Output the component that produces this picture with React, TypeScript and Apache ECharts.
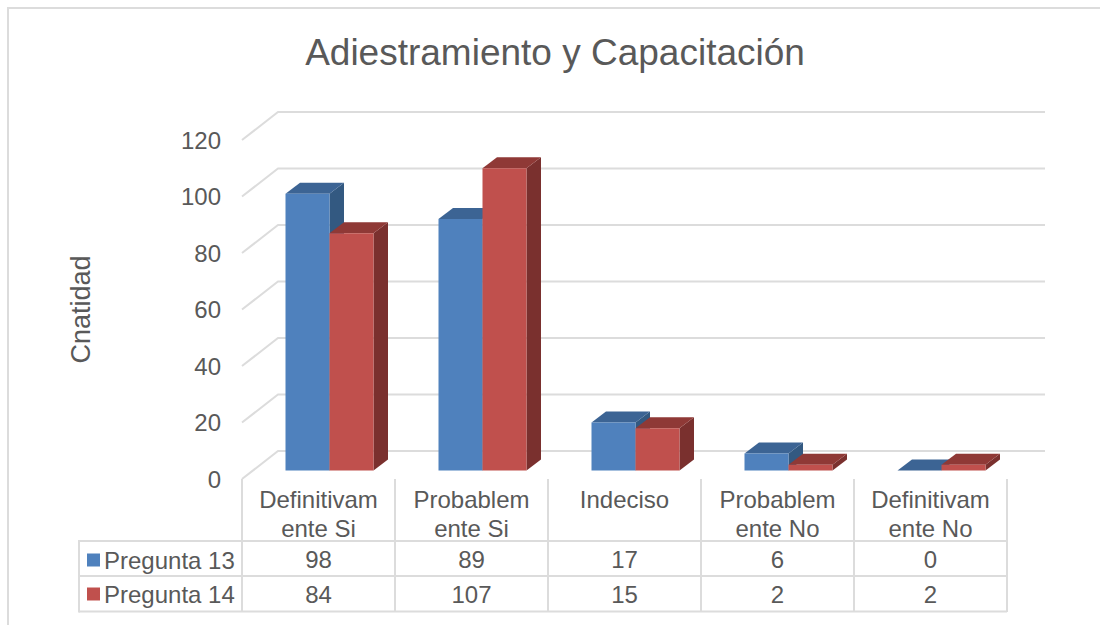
import React, { useEffect, useRef } from "react";
import * as echarts from "echarts";

const categories = ["Definitivam\nente Si", "Probablem\nente Si", "Indeciso", "Probablem\nente No", "Definitivam\nente No"];
const pregunta13 = [98, 89, 17, 6, 0];
const pregunta14 = [84, 107, 15, 2, 2];
const yTicks = [0, 20, 40, 60, 80, 100, 120];
const titleText = "Adiestramiento y Capacitación";
const yName = "Cnatidad";
const seriesNames = ["Pregunta 13", "Pregunta 14"];

const TEXT = "#595959";
const LINE = "#dcdcdc";
const LW = 2;
const FONT = "'Liberation Sans', Arial, sans-serif";
const GRID = { left: 242, top: 140, width: 765, height: 339 };
const BAR_OFF = { x: 11, y: -8.5 };
const BAR_DEPTH = { x: 14.5, y: -11 };
const WALL = { x: 36, y: -28 };
const BAR_FRACTION = 44 / 153;

const barSeries = (name: string, values: number[], sign: number, front: string, top: string, side: string) => ({
  type: "custom",
  name,
  z: 3 + sign,
  itemStyle: { color: front },
  data: values.map((v, i) => [i, v]),
  renderItem: (_: any, api: any) => {
    const p = api.coord([api.value(0), api.value(1)]);
    const base = api.coord([api.value(0), 0]);
    const w = api.size([1, 0])[0] * BAR_FRACTION;
    const x0 = p[0] + BAR_OFF.x + (sign > 0 ? 0 : -w);
    const x1 = x0 + w;
    const yt = p[1] + BAR_OFF.y;
    const yb = base[1] + BAR_OFF.y;
    const d = BAR_DEPTH;
    return {
      type: "group",
      children: [
        { type: "polygon", shape: { points: [[x1, yt], [x1 + d.x, yt + d.y], [x1 + d.x, yb + d.y], [x1, yb]] }, style: { fill: side } },
        { type: "polygon", shape: { points: [[x0, yt], [x0 + d.x, yt + d.y], [x1 + d.x, yt + d.y], [x1, yt]] }, style: { fill: top } },
        { type: "rect", shape: { x: x0, y: yt, width: w, height: yb - yt }, style: { fill: front } },
      ],
    };
  },
});

const tableRow = (values: number[], dy: number) => ({
  type: "custom",
  silent: true,
  z: 5,
  data: values.map((v, i) => [i, v]),
  renderItem: (_: any, api: any) => {
    const base = api.coord([api.value(0), 0]);
    return {
      type: "text",
      style: {
        x: base[0],
        y: base[1] + dy,
        text: String(api.value(1)),
        fill: TEXT,
        font: `24px ${FONT}`,
        align: "center",
        verticalAlign: "middle",
      },
    };
  },
});

export default function App() {
  const ref = useRef<HTMLDivElement>(null);
  useEffect(() => {
    const chart = echarts.init(ref.current!, undefined, { renderer: "svg" });
    const hline = (x1: number, y: number, x2: number) => ({
      type: "line",
      shape: { x1, y1: y, x2, y2: y },
      style: { stroke: LINE, lineWidth: LW },
    });
    chart.setOption({
      animation: false,
      backgroundColor: "#ffffff",
      title: {
        text: titleText,
        left: 555,
        top: 29,
        textAlign: "center",
        textStyle: { color: TEXT, fontFamily: FONT, fontSize: 37, fontWeight: "normal" },
        padding: [5, 10, 5, 0],
      },
      legend: {
        orient: "vertical",
        left: 82,
        top: 543,
        icon: "rect",
        itemWidth: 13,
        itemHeight: 13,
        itemGap: 10,
        selectedMode: false,
        data: seriesNames,
        textStyle: { color: TEXT, fontFamily: FONT, fontSize: 24, padding: [0, 0, 0, -1] },
      },
      grid: GRID,
      xAxis: {
        type: "category",
        data: categories,
        axisLine: { show: false },
        axisTick: { show: true, length: 133, lineStyle: { color: LINE, width: LW } },
        axisLabel: { color: TEXT, fontFamily: FONT, fontSize: 24, lineHeight: 29, margin: 6, interval: 0, verticalAlign: "top" },
      },
      yAxis: {
        type: "value",
        min: 0,
        max: 120,
        interval: 20,
        name: yName,
        nameLocation: "middle",
        nameGap: 148,
        nameTextStyle: { color: TEXT, fontFamily: FONT, fontSize: 27 },
        axisLine: { show: false },
        axisTick: { show: false },
        splitLine: { show: false },
        axisLabel: { color: TEXT, fontFamily: FONT, fontSize: 24, margin: 21, padding: [3, 0, 0, 0] },
      },
      graphic: [
        { type: "rect", shape: { x: 8, y: 8, width: 1200, height: 800 }, style: { fill: "none", stroke: LINE, lineWidth: LW }, silent: true },
        hline(79, 541, 1007),
        hline(79, 576, 1007),
        hline(79, 611.5, 1007),
        { type: "line", shape: { x1: 79, y1: 540, x2: 79, y2: 612.5 }, style: { stroke: LINE, lineWidth: LW } },
      ],
      series: [
        {
          type: "custom",
          silent: true,
          z: 1,
          data: yTicks.map((t) => [0, t]),
          renderItem: (params: any, api: any) => {
            const y = api.coord([0, api.value(1)])[1];
            const x = params.coordSys.x;
            const w = params.coordSys.width;
            return {
              type: "polyline",
              shape: { points: [[x, y], [x + WALL.x, y + WALL.y], [x + WALL.x + w + 2, y + WALL.y]] },
              style: { stroke: LINE, lineWidth: LW, fill: "none" },
            };
          },
        },
        barSeries(seriesNames[0], pregunta13, -1, "#4f81bd", "#3c6494", "#335981"),
        barSeries(seriesNames[1], pregunta14, 1, "#c0504d", "#8f3936", "#7a302e"),
        tableRow(pregunta13, 80),
        tableRow(pregunta14, 115),
      ],
    });
    return () => chart.dispose();
  }, []);
  return <div ref={ref} style={{ position: "absolute", left: 0, top: 0, width: 1100, height: 625 }} />;
}
